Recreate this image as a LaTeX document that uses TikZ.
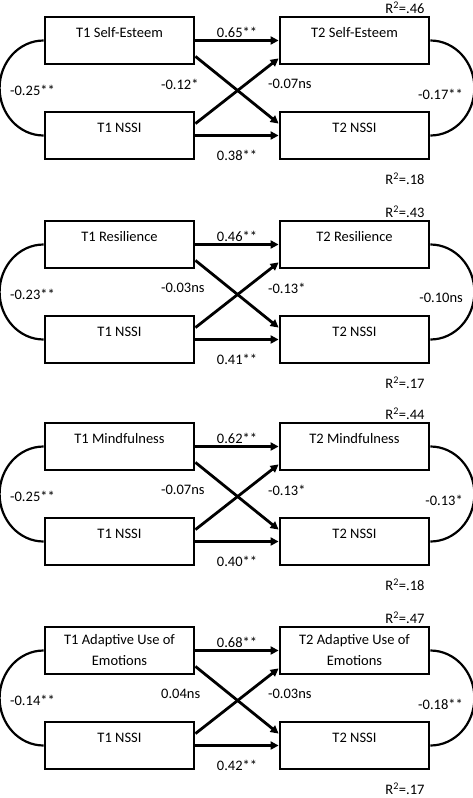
\documentclass[tikz,border=0pt]{standalone}
\usepackage{fontspec}
\setmainfont{Carlito}
\usetikzlibrary{arrows.meta}
\tikzset{
  vbox/.style={draw, line width=2.8pt, minimum width=149pt, minimum height=47pt, inner sep=0pt, font=\fontsize{14.5}{21}\selectfont},
  onel/.style={text height=10pt, text depth=16pt},
  twol/.style={align=center},
  effarrow/.style={line width=2.8pt, -{Triangle[length=8pt,width=8pt]}},
  corr/.style={line width=2.2pt},
  lbl/.style={font=\fontsize{14.5}{17}\selectfont, inner sep=0pt},
}
\newcommand{\SEMpanel}[9]{%
  % #1 id, #2 T1 text, #3 T2 text, #4 top coef, #5 bottom coef, #6 midL, #7 midR, #8 left corr, #9 style
  \node[vbox,#9] (#1t1) at (119.5,23.5) {#2};
  \node[vbox,#9] (#1t2) at (354.5,23.5) {#3};
  \node[vbox,onel] (#1n1) at (119.5,118.5) {T1 NSSI};
  \node[vbox,onel] (#1n2) at (354.5,118.5) {T2 NSSI};
  \draw[effarrow] (#1t1.east) -- (#1t2.west);
  \draw[effarrow] (#1n1.east) -- (#1n2.west);
  \draw[effarrow] ([yshift=9pt]#1t1.south east) -- ([yshift=-13pt]#1n2.north west);
  \draw[effarrow] ([yshift=-13pt]#1n1.north east) -- ([yshift=7pt]#1t2.south west);
  \draw[corr] (#1t1.west) arc[start angle=90,end angle=270,x radius=44pt,y radius=47.5pt];
  \draw[corr] (#1t2.east) arc[start angle=90,end angle=-90,x radius=44pt,y radius=47.5pt];
  \node[lbl] (#1ctop) at (237,15) {#4};
  \node[lbl] (#1cbot) at (237,138) {#5};
  \node[lbl,anchor=west] (#1cml) at (161,67) {#6};
  \node[lbl,anchor=west] (#1cmr) at (268,67) {#7};
  \node[lbl,anchor=east] (#1cl) at (55,73) {#8};
}
\newcommand{\SEMextra}[4]{%
  % #1 id, #2 right corr, #3 R2 top, #4 R2 bottom
  \node[lbl,anchor=east] (#1cr) at (463,77) {#2};
  \node[lbl] (#1rt) at (405,-9) {R\textsuperscript{2}=#3};
  \node[lbl] (#1rb) at (405,162) {R\textsuperscript{2}=#4};
}
\begin{document}
\begin{tikzpicture}[x=1pt,y=-1pt]
\useasboundingbox (0,0) rectangle (473,798);
\fill[white] (0,0) rectangle (473,798);
\begin{scope}[shift={(0,17)}]
  \SEMpanel{a}{T1 Self-Esteem}{T2 Self-Esteem}{0.65**}{0.38**}{-0.12*}{-0.07ns}{-0.25**}{onel}
  \SEMextra{a}{-0.17**}{.46}{.18}
\end{scope}
\begin{scope}[shift={(0,221)}]
  \SEMpanel{b}{T1 Resilience}{T2 Resilience}{0.46**}{0.41**}{-0.03ns}{-0.13*}{-0.23**}{onel}
  \SEMextra{b}{-0.10ns}{.43}{.17}
\end{scope}
\begin{scope}[shift={(0,423)}]
  \SEMpanel{c}{T1 Mindfulness}{T2 Mindfulness}{0.62**}{0.40**}{-0.07ns}{-0.13*}{-0.25**}{onel}
  \SEMextra{c}{-0.13*}{.44}{.18}
\end{scope}
\begin{scope}[shift={(0,627)}]
  \SEMpanel{d}{T1 Adaptive Use of\\Emotions}{T2 Adaptive Use of\\Emotions}{0.68**}{0.42**}{0.04ns}{-0.03ns}{-0.14**}{twol}
  \SEMextra{d}{-0.18**}{.47}{.17}
\end{scope}
\end{tikzpicture}
\end{document}
